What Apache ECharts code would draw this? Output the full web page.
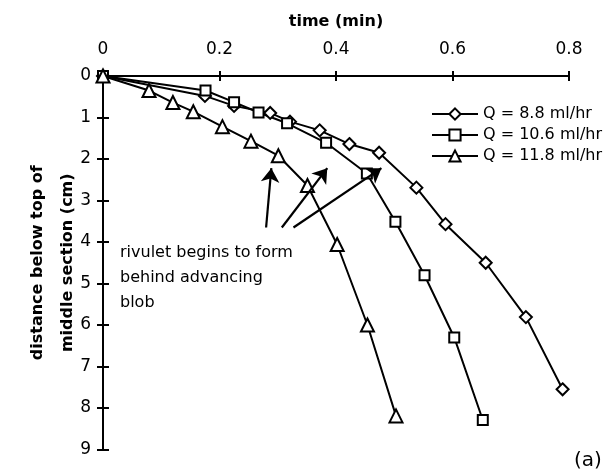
<!DOCTYPE html>
<html>
<head>
<meta charset="utf-8">
<script src="https://cdn.jsdelivr.net/npm/echarts@6/dist/echarts.min.js"></script>
<style>html,body{margin:0;padding:0;background:#fff}#c{width:607px;height:471px}</style>
</head>
<body>
<div id="c"></div>
<script>
// Data (time in min, distance in cm)
var seriesNames = ['Q = 8.8 ml/hr', 'Q = 10.6 ml/hr', 'Q = 11.8 ml/hr'];
var q88Time = [0, 0.175, 0.225, 0.287, 0.321, 0.372, 0.423, 0.474, 0.538, 0.588, 0.657, 0.726, 0.789];
var q88Dist = [0, 0.48, 0.72, 0.89, 1.10, 1.31, 1.64, 1.85, 2.69, 3.57, 4.50, 5.81, 7.55];
var q106Time = [0, 0.176, 0.225, 0.267, 0.316, 0.383, 0.453, 0.502, 0.552, 0.603, 0.652];
var q106Dist = [0, 0.35, 0.63, 0.88, 1.14, 1.61, 2.35, 3.51, 4.80, 6.30, 8.29];
var q118Time = [0, 0.079, 0.120, 0.155, 0.205, 0.254, 0.301, 0.351, 0.402, 0.454, 0.503];
var q118Dist = [0, 0.35, 0.64, 0.86, 1.22, 1.57, 1.92, 2.64, 4.06, 6.00, 8.19];
// annotation arrows: [tailTime, tailDist, headTime, headDist]
var arrows = [
  [0.280, 3.65, 0.289, 2.22],
  [0.307, 3.65, 0.385, 2.22],
  [0.327, 3.65, 0.478, 2.22]
];
var annotationText = ['rivulet begins to form', 'behind advancing', 'blob'];
var panelLabel = '(a)';

function pairs(t, d) { return t.map(function (v, i) { return [v, d[i]]; }); }

var FONT = 'DejaVu Sans';
var chart = echarts.init(document.getElementById('c'), null, {renderer: 'canvas'});

function baseSeries(name, t, d, symbol, size) {
  return {
    name: name, type: 'line', data: pairs(t, d),
    xAxisIndex: 0, yAxisIndex: 0,
    symbol: symbol, symbolSize: size, showAllSymbol: true,
    lineStyle: {color: '#000', width: 2},
    itemStyle: {color: '#fff', borderColor: '#000', borderWidth: 2},
    emphasis: {disabled: true},
    animation: false
  };
}

var option = {
  backgroundColor: '#fff',
  animation: false,
  grid: {left: 103, top: 76, right: 38, bottom: 21.5, containLabel: false},
  legend: {
    data: seriesNames,
    orient: 'vertical', left: 431, top: 106, padding: 0,
    itemWidth: 46, itemHeight: 14, itemGap: 5,
    textStyle: {fontFamily: FONT, fontSize: 16, color: '#000'}
  },
  xAxis: [{
    type: 'value', position: 'top', min: 0, max: 0.8, interval: 0.2,
    name: 'time (min)', nameLocation: 'middle', nameGap: 46,
    nameTextStyle: {fontFamily: FONT, fontSize: 16, fontWeight: 'bold', color: '#000'},
    axisLine: {show: true, lineStyle: {color: '#000', width: 2}},
    axisTick: {show: true, length: 5, lineStyle: {color: '#000', width: 2}},
    axisLabel: {fontFamily: FONT, fontSize: 17, color: '#000', margin: 18},
    splitLine: {show: false}
  }, {
    type: 'value', position: 'top', min: 0, max: 0.8, interval: 0.2,
    axisLine: {show: false},
    axisTick: {show: true, inside: true, length: 5, lineStyle: {color: '#000', width: 2}},
    axisLabel: {show: false}, splitLine: {show: false}
  }],
  yAxis: [{
    type: 'value', inverse: true, min: 0, max: 9, interval: 1,
    name: 'distance below top of\nmiddle section (cm)', nameLocation: 'middle', nameRotate: 90, nameGap: 20,
    nameMoveOverlap: false,
    nameTextStyle: {fontFamily: FONT, fontSize: 16, fontWeight: 'bold', color: '#000', lineHeight: 30},
    axisLine: {show: true, lineStyle: {color: '#000', width: 2}},
    axisTick: {show: true, length: 6, lineStyle: {color: '#000', width: 2}},
    axisLabel: {fontFamily: FONT, fontSize: 17, color: '#000', margin: 12},
    splitLine: {show: false}
  }, {
    type: 'value', inverse: true, min: 0, max: 9, interval: 1, position: 'left',
    axisLine: {show: false},
    axisTick: {show: true, inside: true, length: 6, lineStyle: {color: '#000', width: 2}},
    axisLabel: {show: false}, splitLine: {show: false}
  }],
  series: [
    baseSeries(seriesNames[0], q88Time, q88Dist, 'diamond', 12),
    baseSeries(seriesNames[1], q106Time, q106Dist, 'rect', 10),
    baseSeries(seriesNames[2], q118Time, q118Dist, 'triangle', 13),
    {
      name: 'arrows', type: 'line', data: [], xAxisIndex: 0, yAxisIndex: 0,
      silent: true, animation: false,
      markLine: {
        silent: true, animation: false,
        symbol: ['none', 'arrow'], symbolSize: 14,
        label: {show: false},
        lineStyle: {color: '#000', width: 2.2, type: 'solid'},
        emphasis: {disabled: true},
        data: arrows.map(function (a) {
          return [{coord: [a[0], a[1]]}, {coord: [a[2], a[3]]}];
        })
      }
    }
  ],
  graphic: [
    {
      type: 'text', left: 120, top: 240,
      style: {text: annotationText.join('\n'), fontFamily: FONT, fontSize: 16, lineHeight: 25, fill: '#000'}
    },
    {
      type: 'text', left: 574, top: 451,
      style: {text: panelLabel, fontFamily: FONT, fontSize: 20, fill: '#000'}
    }
  ]
};
chart.setOption(option);
</script>
</body>
</html>
